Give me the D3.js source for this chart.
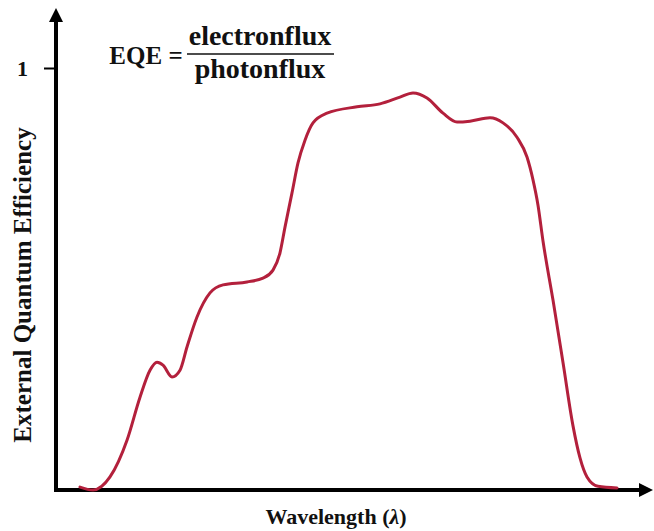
<!DOCTYPE html>
<html>
<head>
<meta charset="utf-8">
<script src="https://cdn.jsdelivr.net/npm/d3@7"></script>
<style>
  html, body { margin: 0; padding: 0; background: #fff; }
  svg { display: block; }
  text { font-family: "Liberation Serif", "Times New Roman", serif; font-weight: bold; fill: #111; }
</style>
</head>
<body>
<svg id="chart" width="654" height="531"></svg>
<script>
// Wavelength positions (arbitrary units) and EQE values
const wavelength = [23, 36, 53, 70, 83, 93, 100, 106, 115, 123, 130, 140, 153, 166, 190, 206, 216, 223, 228, 235, 241, 248, 256, 270, 300, 323, 343, 356, 370, 386, 400, 413, 433, 446, 460, 470, 476, 481, 486, 496, 506, 516, 523, 530, 541, 560];
const eqe = [0.007, 0.0, 0.031, 0.118, 0.220, 0.284, 0.303, 0.296, 0.268, 0.284, 0.339, 0.410, 0.467, 0.486, 0.493, 0.502, 0.521, 0.562, 0.623, 0.704, 0.775, 0.829, 0.870, 0.893, 0.908, 0.915, 0.931, 0.941, 0.929, 0.893, 0.872, 0.874, 0.882, 0.870, 0.836, 0.789, 0.735, 0.675, 0.590, 0.450, 0.302, 0.152, 0.076, 0.031, 0.009, 0.005];
const yTickValues = [1];
const yTickLabels = ["1"];
const xTitleMain = "Wavelength (";
const xTitleSymbol = "λ";
const xTitleEnd = ")";
const yTitle = "External Quantum Efficiency";
const formulaLeft = "EQE =";
const formulaNum = "electronflux";
const formulaDen = "photonflux";

const svg = d3.select("#chart");
const x0 = 56, x1 = 653, yBase = 490, yTop = 8;

const x = d3.scaleLinear().domain([0, 597]).range([x0 + 1, x0 + 598]);
const y = d3.scaleLinear().domain([0, 1]).range([yBase, 68]);

// Axes
const axisColor = "#000";
svg.append("line").attr("x1", x0).attr("x2", x0).attr("y1", yBase + 2).attr("y2", yTop + 12)
  .attr("stroke", axisColor).attr("stroke-width", 4);
svg.append("path").attr("d", `M${x0 - 7},${yTop + 14} L${x0},${yTop} L${x0 + 7},${yTop + 14} Z`).attr("fill", axisColor);

svg.append("line").attr("x1", x0 - 2).attr("x2", x1 - 12).attr("y1", yBase).attr("y2", yBase)
  .attr("stroke", axisColor).attr("stroke-width", 4);
svg.append("path").attr("d", `M${x1 - 14},${yBase - 7} L${x1},${yBase} L${x1 - 14},${yBase + 7} Z`).attr("fill", axisColor);

// Y tick
const yAxis = d3.axisLeft(y).tickValues(yTickValues).tickFormat((d, i) => yTickLabels[i]).tickSize(11).tickPadding(16);
const gy = svg.append("g").attr("transform", `translate(${x0 - 1},0)`).call(yAxis);
gy.select(".domain").remove();
gy.selectAll(".tick line").attr("stroke", "#000").attr("stroke-width", 2);
gy.selectAll(".tick text").attr("font-size", 22).attr("font-family", "Liberation Serif, serif").attr("font-weight", "bold").attr("fill", "#111");

// Curve
const line = d3.line()
  .x((d, i) => x(wavelength[i]))
  .y((d) => y(d))
  .curve(d3.curveMonotoneX);
svg.append("path").datum(eqe).attr("d", line)
  .attr("fill", "none").attr("stroke", "#b3203c").attr("stroke-width", 3)
  .attr("stroke-linecap", "round").attr("stroke-linejoin", "round");

// Titles
const xt = svg.append("text").attr("x", 336).attr("y", 524).attr("text-anchor", "middle").attr("font-size", 22);
xt.append("tspan").text(xTitleMain);
xt.append("tspan").attr("font-style", "italic").text(xTitleSymbol);
xt.append("tspan").text(xTitleEnd);
svg.append("text").attr("transform", "translate(31,285) rotate(-90)").attr("text-anchor", "middle").attr("font-size", 25).text(yTitle);

// Formula
svg.append("text").attr("x", 146).attr("y", 64).attr("text-anchor", "middle").attr("font-size", 25).text(formulaLeft);
svg.append("text").attr("x", 260).attr("y", 45).attr("text-anchor", "middle").attr("font-size", 28).text(formulaNum);
svg.append("line").attr("x1", 187).attr("x2", 334).attr("y1", 54).attr("y2", 54).attr("stroke", "#111").attr("stroke-width", 1.5);
svg.append("text").attr("x", 260).attr("y", 78).attr("text-anchor", "middle").attr("font-size", 28).text(formulaDen);
</script>
</body>
</html>
